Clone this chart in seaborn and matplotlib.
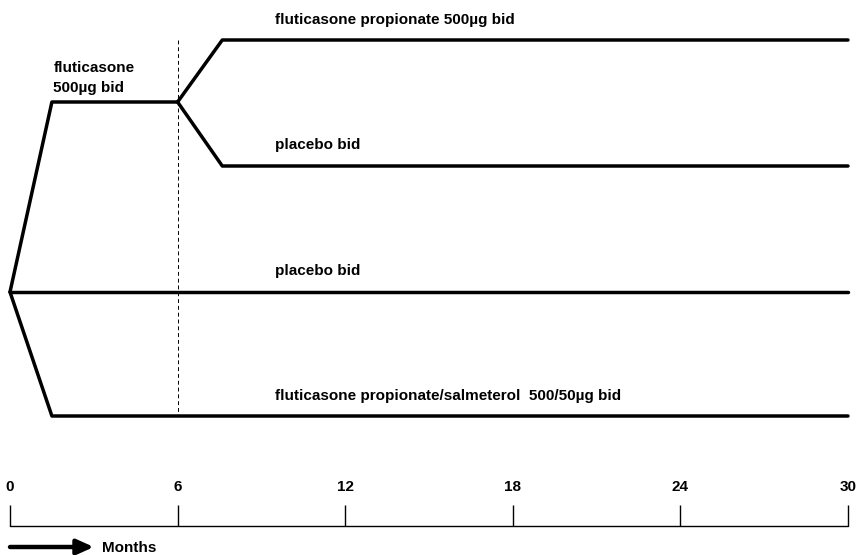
import pandas as pd
import matplotlib
matplotlib.use("Agg")
import matplotlib.pyplot as plt
import seaborn as sns

sns.set_style("white")
plt.rcParams['font.family'] = ['Liberation Sans', 'DejaVu Sans']

# months on the time axis
tick_months = [0, 6, 12, 18, 24, 30]
tick_labels = ['0', '6', '12', '18', '24', '30']

# arm paths: month points and level (vertical position, top = small)
run_in_months = [0, 1.5, 6]
run_in_levels = [292, 102, 102]
fp_months = [6, 7.6, 30]
fp_levels = [102, 40, 40]
pl1_months = [6, 7.6, 30]
pl1_levels = [102, 166, 166]
pl2_months = [0, 30]
pl2_levels = [292, 292]
fsc_months = [0, 1.5, 30]
fsc_levels = [292, 416, 416]

arm_labels = ['fluticasone propionate 500µg bid', 'placebo bid', 'placebo bid',
              'fluticasone propionate/salmeterol  500/50µg bid']
arm_label_month = 9.5
arm_label_levels = [20, 145, 271, 396]

run_in_label = ['fluticasone', '500µg bid']
run_in_label_levels = [68, 88]

rows = []
for name, ms, lv in [('run_in', run_in_months, run_in_levels),
                     ('fp', fp_months, fp_levels),
                     ('pl1', pl1_months, pl1_levels),
                     ('pl2', pl2_months, pl2_levels),
                     ('fsc', fsc_months, fsc_levels)]:
    for i, (m, l) in enumerate(zip(ms, lv)):
        rows.append({'arm': name, 'order': i, 'month': m, 'level': l})
paths = pd.DataFrame(rows)

fig = plt.figure(figsize=(8.64, 5.55), dpi=100)
ax = fig.add_axes([0, 0, 1, 1])

sns.lineplot(data=paths, x='month', y='level', units='arm', estimator=None,
             sort=False, color='black', linewidth=2.5, ax=ax, legend=False)

# randomisation line at 6 months
ax.vlines(6, 40, 416, colors='black', linestyles=(0, (4, 3)), linewidth=0.7)

bold = dict(fontsize=11, fontweight='bold', color='black')
for lab, lv in zip(arm_labels, arm_label_levels):
    ax.text(arm_label_month, lv, lab, va='center', ha='left', **bold)
for lab, lv in zip(run_in_label, run_in_label_levels):
    ax.text(1.55, lv, lab, va='center', ha='left', **bold)

# time axis
ax.plot([tick_months[0], tick_months[-1]], [526, 526], color='black', linewidth=1.0)
ax.vlines(tick_months, 505, 526, colors='black', linewidth=1.0)
for m, t in zip(tick_months, tick_labels):
    ax.text(m, 487, t, ha='center', va='center', **bold)

ax.annotate('', xy=(3.0, 547), xytext=(0, 547),
            arrowprops=dict(arrowstyle='-|>,head_length=1.0,head_width=0.45',
                            color='black', lw=3.2, shrinkA=0, shrinkB=0))
ax.text(3.3, 548, 'Months', ha='left', va='center', **bold)

ax.set_xlim(-0.358, 30.573)
ax.set_ylim(555, 0)
ax.axis('off')

fig.savefig('out.png', dpi=100)
